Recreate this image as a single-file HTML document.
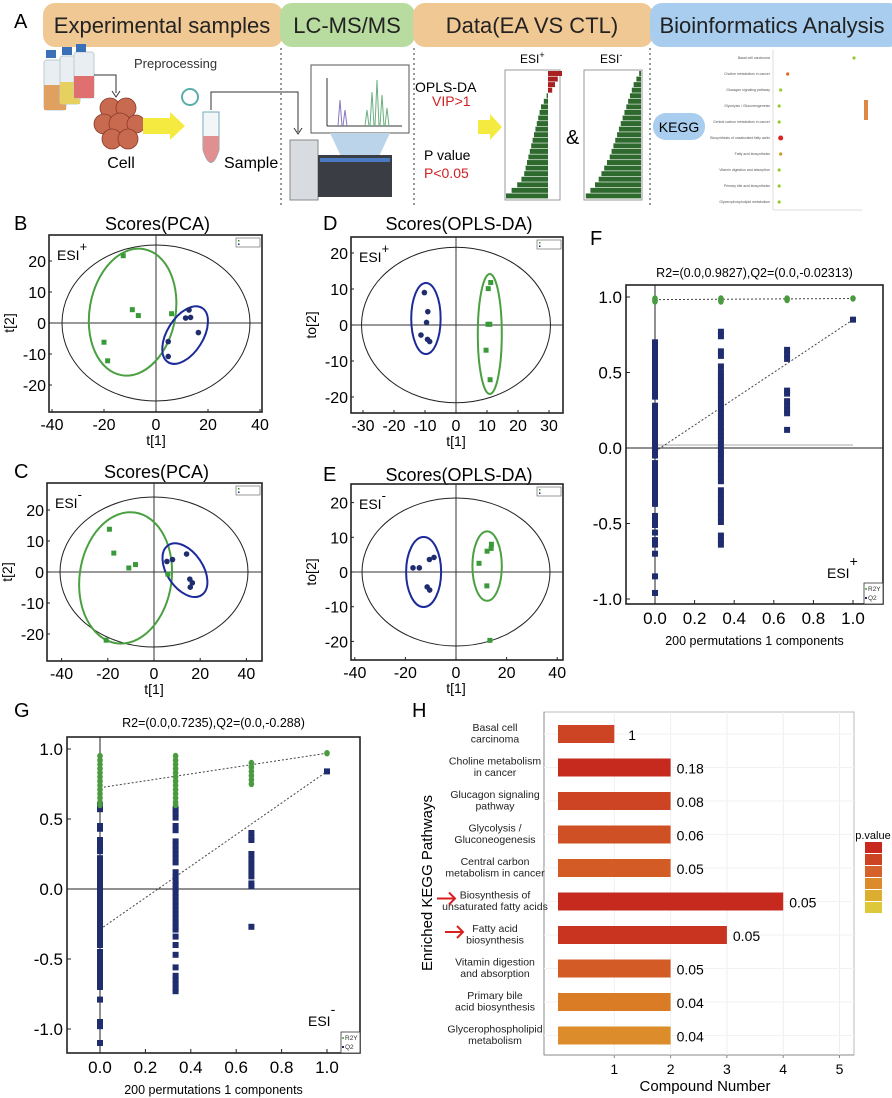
<!DOCTYPE html>
<html><head><meta charset="utf-8"><style>
html,body{margin:0;padding:0;background:#fff}
svg{display:block;font-family:"Liberation Sans",Arial,sans-serif}
</style></head><body>
<svg id="fig" width="892" height="1098" viewBox="0 0 892 1098" xmlns="http://www.w3.org/2000/svg">
<!-- Panel A -->
<g>
<text x="14" y="28" font-size="20">A</text>
<rect x="43" y="3" width="240" height="44" rx="12" fill="#f0c894"/>
<text x="162" y="33" font-size="22" text-anchor="middle" fill="#222">Experimental samples</text>
<rect x="280" y="3" width="135" height="44" rx="12" fill="#b8dca0"/>
<text x="347" y="33" font-size="22" text-anchor="middle" fill="#222">LC-MS/MS</text>
<rect x="413" y="3" width="240" height="44" rx="12" fill="#f0c894"/>
<text x="532" y="33" font-size="22" text-anchor="middle" fill="#222">Data(EA VS CTL)</text>
<rect x="650" y="3" width="250" height="44" rx="12" fill="#a8cdee"/>
<text x="772" y="33" font-size="22" text-anchor="middle" fill="#222">Bioinformatics Analysis</text>
<g stroke="#333" stroke-dasharray="2,3" stroke-width="1">
<line x1="281" y1="48" x2="281" y2="205"/><line x1="414" y1="48" x2="414" y2="205"/><line x1="650" y1="48" x2="650" y2="205"/></g>
<g>
<rect x="44" y="60" width="22" height="50" rx="3" fill="#e8eef2" stroke="#bcc"/><rect x="44" y="85" width="22" height="25" fill="#e0a060"/>
<rect x="60" y="56" width="20" height="48" rx="3" fill="#e8eef2" stroke="#bcc"/><rect x="60" y="82" width="20" height="22" fill="#e6d060"/>
<rect x="74" y="52" width="20" height="46" rx="3" fill="#e8eef2" stroke="#bcc"/><rect x="74" y="76" width="20" height="22" fill="#e07070"/>
<rect x="46" y="50" width="10" height="8" fill="#3a70b8"/><rect x="62" y="47" width="10" height="8" fill="#3a70b8"/><rect x="76" y="44" width="10" height="8" fill="#3a70b8"/>
</g>
<path d="M94 75 H116 V93" fill="none" stroke="#333"/><path d="M112 91 L116 97 L120 91" fill="none" stroke="#333"/>
<text x="134" y="68" font-size="13" fill="#333">Preprocessing</text>
<g fill="#c86a50" stroke="#8a3a28" stroke-width="0.8">
<circle cx="110" cy="108" r="10"/><circle cx="126" cy="108" r="10"/><circle cx="104" cy="124" r="10"/><circle cx="120" cy="124" r="11"/><circle cx="136" cy="124" r="9"/><circle cx="112" cy="139" r="10"/><circle cx="128" cy="139" r="10"/></g>
<text x="121" y="168" font-size="16" text-anchor="middle">Cell</text>
<polygon points="143,118 170,118 170,112 185,126 170,140 170,134 143,134" fill="#f4ea40"/>
<g>
<path d="M203 112 L203 150 Q211 175 219 150 L219 112 Z" fill="#f2f6f6" stroke="#7ab"/><path d="M203 136 L203 150 Q211 175 219 150 L219 136 Z" fill="#e09090"/>
<circle cx="190" cy="97" r="8" fill="none" stroke="#5ab0a8" stroke-width="2"/></g>
<path d="M211 110 V92 H298 V132" fill="none" stroke="#333"/><path d="M294 128 L298 134 L302 128" fill="none" stroke="#333"/>
<text x="224" y="168" font-size="16">Sample</text>
<g>
<rect x="311" y="65" width="98" height="68" fill="#fff" stroke="#555"/>
<polygon points="330,133 390,133 375,165 345,165" fill="#bcd4ea"/>
<path d="M327 126 H402" stroke="#333"/><path d="M327 126 V78" stroke="#333"/>
<path d="M338 126 L340 100 L342 126 M343 126 L345 110 L347 126" stroke="#8878c0" fill="none"/>
<path d="M365 126 L367 110 L369 126 M370 126 L372 92 L374 126 M375 126 L377 80 L379 126 M380 126 L382 95 L384 126 M385 126 L387 108 L389 126" stroke="#6ab080" fill="none"/></g>
<g>
<rect x="290" y="140" width="28" height="60" fill="#d8dce0" stroke="#888"/><rect x="318" y="155" width="74" height="42" fill="#3a3e44"/><rect x="320" y="158" width="70" height="4" fill="#4a7ac0"/></g>
<text x="415" y="92" font-size="14">OPLS-DA</text>
<text x="432" y="106" font-size="14" fill="#d02020">VIP&gt;1</text>
<text x="424" y="160" font-size="14">P value</text>
<text x="424" y="178" font-size="14" fill="#d02020">P&lt;0.05</text>
<polygon points="478,120 490,120 490,114 502,127 490,140 490,134 478,134" fill="#f4ea40"/>
<text x="520" y="63" font-size="12">ESI<tspan dy="-5" font-size="9">+</tspan></text>
<text x="600" y="63" font-size="12">ESI<tspan dy="-5" font-size="9">-</tspan></text>
<rect x="505" y="70" width="55" height="130" fill="#fff" stroke="#999"/>
<rect x="584" y="70" width="58" height="130" fill="#fff" stroke="#999"/>
<g id="vipbars"></g>
<text x="566" y="144" font-size="20">&amp;</text>
<rect x="653" y="113" width="52" height="27" rx="13" fill="#a8cdee"/>
<text x="679" y="132" font-size="14" text-anchor="middle">KEGG</text>
<g id="dotplot"><line x1="773" y1="50" x2="773" y2="210" stroke="#ddd"/><line x1="773" y1="210" x2="862" y2="210" stroke="#ddd"/></g>
</g>
<g id="plots"></g>
</svg>
<script>
const NS='http://www.w3.org/2000/svg';
const root=document.getElementById('plots');
function mk(tag,attrs,parent,txt){const e=document.createElementNS(NS,tag);for(const k in attrs)e.setAttribute(k,attrs[k]);if(txt!==undefined)e.textContent=txt;(parent||root).appendChild(e);return e;}

// ---------- Panel A mini charts ----------
const vipPos=[1.0,0.7,0.5,0.3,-0.1,-0.3,-0.5,-0.6,-0.7,-0.8,-0.9,-1.0,-1.1,-1.2,-1.3,-1.4,-1.5,-1.6,-1.7,-1.9,-2.2,-2.6,-3.0];
const vipNeg=[-0.2,-0.5,-0.8,-1.0,-1.2,-1.4,-1.6,-1.8,-2.0,-2.2,-2.4,-2.6,-2.8,-3.0,-3.2,-3.4,-3.7,-4.0,-4.3,-4.6,-5.0,-5.5,-6.0];
(function(){const g=document.getElementById('vipbars');
 const bh=128/vipPos.length;
 vipPos.forEach((v,i)=>{const x0=548,k=14;const b=mk('rect',{x:Math.min(x0,x0+v*k),y:71+i*bh,width:Math.abs(v*k),height:bh-0.6,fill:v>0?'#a82020':'#2e6a2e'},g);
 
 });
 vipNeg.forEach((v,i)=>{const x0=641,k=9.2;const b=mk('rect',{x:x0+v*k,y:71+i*bh,width:-v*k,height:bh-0.6,fill:'#2e6a2e'},g);
 
 });
})();
const dotNames=['Basal cell carcinoma','Choline metabolism in cancer','Glucagon signaling pathway','Glycolysis / Gluconeogenesis','Central carbon metabolism in cancer','Biosynthesis of unsaturated fatty acids','Fatty acid biosynthesis','Vitamin digestion and absorption','Primary bile acid biosynthesis','Glycerophospholipid metabolism'];
const dotRich=[1.0,0.15,0.06,0.04,0.04,0.06,0.06,0.04,0.04,0.04];
const dotCol=['#9c3','#d62','#9c3','#9c3','#9c3','#d22','#c92','#9c3','#9c3','#9c3'];
(function(){const g=document.getElementById('dotplot');
 dotRich.forEach((v,i)=>{const d=mk('circle',{cx:776+v*78,cy:58+i*16,r:i==5?2.5:1.6,fill:dotCol[i]},g);
 
 
 const t=mk('text',{x:770,y:59+i*16,'font-size':3.5,'text-anchor':'end',fill:'#555'},g,dotNames[i]);
 
 });
 const lg=mk('rect',{x:864,y:100,width:4,height:20,fill:'#d84'},g);
 
 
})();

// ---------- Score plots (B-E) ----------
const bGreenX=[-12.6,-9.1,-6.8,6.0,-20.0,-18.6], bGreenY=[21.7,4.3,2.4,3.0,-6.2,-12.2];
const bBlueX=[12.7,11.4,13.3,16.3,4.7,4.7], bBlueY=[4.2,1.6,1.8,-3.1,-6.0,-10.8];
const cGreenX=[-19.3,-17.4,-10.9,-8.0,6.0,-20.7], cGreenY=[13.8,6.1,1.3,2.4,-0.7,-22.0];
const cBlueX=[5.6,8.0,14.1,15.5,16.6,15.7], cBlueY=[3.4,4.0,5.8,-2.3,-3.5,-4.9];
const dGreenX=[11.2,10.4,10.3,10.9,9.7,11.0], dGreenY=[11.8,10.1,0.2,0.2,-7.0,-15.2];
const dBlueX=[-10.2,-9.1,-9.5,-11.3,-9.2,-8.5], dBlueY=[9.0,3.7,0.7,-2.8,-4.0,-4.6];
const eGreenX=[9.1,12.3,14.0,13.9,12.2,13.4], eGreenY=[2.5,6.0,8.0,6.8,-4.0,-19.7];
const eBlueX=[-17.0,-14.5,-10.5,-8.7,-11.4,-10.4], eBlueY=[1.2,1.2,3.6,4.2,-4.3,-5.2];
const tickPCA=[-40,-20,0,20,40], tickOPLS=[-30,-20,-10,0,10,20,30], tickY=[20,10,0,-10,-20];

const panels=[
 {id:'b',L:'B',box:[49,235,262,412],x0:156,xk:2.6,y0:323,yk:3.1,xt:tickPCA,title:'Scores(PCA)',ty:224,esi:'+',yl:'t[2]',
  gx:bGreenX,gy:bGreenY,bx:bBlueX,by:bBlueY,outer:[94,78],ge:[-9.0,3.5,43,64,10],be:[11.2,-3.9,32,18,-58]},
 {id:'c',L:'C',box:[47,483,262,661],x0:154,xk:2.31,y0:572,yk:3.1,xt:tickPCA,title:'Scores(PCA)',ty:472,esi:'-',yl:'t[2]',
  gx:cGreenX,gy:cGreenY,bx:cBlueX,by:cBlueY,outer:[94,75],ge:[-12.3,-1.9,46,66,8],be:[13.4,0.6,30,18,56]},
 {id:'d',L:'D',box:[351,237,563,413],x0:456,xk:3.1,y0:325,yk:3.6,xt:tickOPLS,title:'Scores(OPLS-DA)',ty:224,esi:'+',yl:'to[2]',
  gx:dGreenX,gy:dGreenY,bx:dBlueX,by:dBlueY,outer:[94.5,77.7],ge:[10.9,-2.5,12,60,0],be:[-9.7,1.8,14.7,35.5,0]},
 {id:'e',L:'E',box:[351,484,563,660],x0:456,xk:2.53,y0:572,yk:3.47,xt:tickPCA,title:'Scores(OPLS-DA)',ty:475,esi:'-',yl:'to[2]',
  gx:eGreenX,gy:eGreenY,bx:eBlueX,by:eBlueY,outer:[94,74],ge:[12.3,1.7,14.7,34.7,0],be:[-12.8,0,17.5,35,0]}
];
panels.forEach(p=>{
 const g=mk('g',{});
 
 
 const X=v=>p.x0+v*p.xk, Y=v=>p.y0-v*p.yk;
 const [l,t,r,b]=p.box;
 const lab=mk('text',{x:14,y:p.ty+6,'font-size':20},g,p.L);
 if(p.id=='d'||p.id=='e'){lab.setAttribute('x',323);}
 
 
 const ti=mk('text',{x:(l+r)/2+2,y:p.ty+6,'font-size':18,'text-anchor':'middle'},g,p.title);
 
 
 const fr=mk('rect',{x:l,y:t,width:r-l,height:b-t,fill:'none',stroke:'#222','stroke-width':1.6},g);
 
 
 mk('line',{x1:l,x2:r,y1:Y(0),y2:Y(0),stroke:'#333'},g);
 mk('line',{x1:X(0),x2:X(0),y1:t,y2:b,stroke:'#333'},g);
 const oe=mk('ellipse',{cx:X(0),cy:Y(0),rx:p.outer[0],ry:p.outer[1],fill:'none',stroke:'#222','stroke-width':1},g);
 
 
 p.xt.forEach(v=>{mk('line',{x1:X(v),x2:X(v),y1:b,y2:b-3,stroke:'#222'},g);
  const tx=mk('text',{x:X(v),y:b+18,'font-size':16,'text-anchor':'middle'},g,String(v));
  
  });
 tickY.forEach(v=>{mk('line',{x1:l,x2:l+3,y1:Y(v),y2:Y(v),stroke:'#222'},g);
  const ty=mk('text',{x:l-3,y:Y(v)+6,'font-size':16,'text-anchor':'end'},g,String(v));
  
  });
 const xl=mk('text',{x:X(0),y:b+33,'font-size':14,'text-anchor':'middle'},g,'t[1]');
 
 
 const yl=mk('text',{x:0,y:0,'font-size':14,'text-anchor':'middle',transform:`translate(${l-35},${Y(0)}) rotate(-90)`},g,p.yl);
 
 
 const es=mk('text',{x:l+8,y:t+25,'font-size':14},g);
 es.innerHTML='ESI<tspan dy="-9" font-size="13">'+p.esi+'</tspan>';
 
 
 const lg=mk('rect',{x:r-26,y:t+3,width:24,height:9,fill:'#fff',stroke:'#555','stroke-width':0.6},g);
 
 
 mk('rect',{x:r-24,y:t+5,width:1.5,height:1.5,fill:'#3a9a3a'},g);mk('rect',{x:r-24,y:t+8.5,width:1.5,height:1.5,fill:'#1f2d6e'},g);
 [['ge','#4aa040'],['be','#1c2a9a']].forEach(([k,c])=>{const e=p[k];
  const el=mk('ellipse',{cx:0,cy:0,rx:e[2],ry:e[3],fill:'none',stroke:c,'stroke-width':2,transform:`translate(${X(e[0])},${Y(e[1])}) rotate(${e[4]})`},g);
  
  });
 p.gx.forEach((v,i)=>{const s=mk('rect',{x:X(v)-2.5,y:Y(p.gy[i])-2.5,width:5,height:5,fill:'#3a9a3a'},g);
  
  });
 p.bx.forEach((v,i)=>{const c=mk('circle',{cx:X(v),cy:Y(p.by[i]),r:2.8,fill:'#1f2d6e'},g);
  
  });
});

// ---------- Permutation plots (F, G) ----------
const fR2y=[0.99,0.98,0.97,0.99,0.98,0.97,0.99,0.98,0.99];
const fQ2x0=[0.70,0.67,0.64,0.61,0.58,0.55,0.52,0.49,0.46,0.43,0.40,0.37,0.34,0.28,0.25,0.22,0.19,0.16,0.13,0.10,0.07,0.04,0.01,-0.02,-0.05,-0.10,-0.13,-0.16,-0.19,-0.22,-0.25,-0.28,-0.31,-0.34,-0.37,-0.45,-0.48,-0.51,-0.56,-0.61,-0.64,-0.70,-0.85,-0.96];
const fQ2x1=[0.77,0.74,0.64,0.61,0.54,0.50,0.47,0.44,0.41,0.38,0.35,0.32,0.29,0.26,0.23,0.20,0.17,0.14,0.11,0.08,0.05,0.02,-0.01,-0.04,-0.07,-0.10,-0.13,-0.16,-0.19,-0.22,-0.28,-0.31,-0.34,-0.37,-0.40,-0.43,-0.46,-0.49,-0.58,-0.61,-0.64];
const fQ2x2=[0.65,0.62,0.59,0.38,0.36,0.31,0.28,0.25,0.23,0.12];
const fQ2x3=[0.85];
const fLines=[[0.9827,0.99],[-0.02313,0.85]];
const gR2x0=[0.95,0.92,0.89,0.86,0.83,0.80,0.77,0.74,0.71,0.68,0.65,0.62,0.60];
const gR2x1=[0.95,0.92,0.89,0.86,0.83,0.80,0.77,0.74,0.71,0.68,0.65,0.62,0.60];
const gR2x2=[0.90,0.87,0.84,0.81,0.78,0.75];
const gR2x3=[0.97];
const gQ2x0=[0.60,0.57,0.45,0.43,0.35,0.32,0.29,0.27,0.22,0.19,0.16,0.13,0.10,0.07,0.04,0.01,-0.02,-0.05,-0.08,-0.11,-0.14,-0.17,-0.20,-0.23,-0.26,-0.29,-0.32,-0.35,-0.38,-0.40,-0.45,-0.48,-0.51,-0.54,-0.57,-0.60,-0.63,-0.66,-0.70,-0.79,-0.95,-0.98,-1.10];
const gQ2x1=[0.57,0.54,0.51,0.45,0.42,0.34,0.31,0.28,0.25,0.22,0.19,0.12,0.09,0.06,0.03,0.00,-0.03,-0.06,-0.09,-0.12,-0.15,-0.18,-0.21,-0.24,-0.27,-0.29,-0.34,-0.40,-0.47,-0.56,-0.62,-0.65,-0.68,-0.71,-0.73];
const gQ2x2=[0.40,0.37,0.35,0.25,0.21,0.17,0.13,0.09,0.04,0.02,-0.27];
const gQ2x3=[0.84];
const gLines=[[0.7235,0.97],[-0.288,0.84]];
const permX=[0,0.333,0.667,1];
const permTicks=[0,0.2,0.4,0.6,0.8,1.0], permYTicks=[1.0,0.5,0.0,-0.5,-1.0];
const perm=[
 {id:'f',L:'F',lx:590,ly:245,box:[626,285,883,604],x0:655,xk:198,y0:448,yk:151,title:'R2=(0.0,0.9827),Q2=(0.0,-0.02313)',ty:277,
  r2v:[fR2y.slice(0,3),fR2y.slice(3,6),fR2y.slice(6,8),fR2y.slice(8)],
  q2:[fQ2x0,fQ2x1,fQ2x2,fQ2x3],lines:fLines,esi:'+',ex:827,ey:578,grey:true},
 {id:'g',L:'G',lx:14,ly:717,box:[67,737,360,1053],x0:100,xk:227,y0:889,yk:140,title:'R2=(0.0,0.7235),Q2=(0.0,-0.288)',ty:727,
  r2v:[gR2x0,gR2x1,gR2x2,gR2x3],q2:[gQ2x0,gQ2x1,gQ2x2,gQ2x3],lines:gLines,esi:'-',ex:308,ey:1026,grey:false}
];
perm.forEach(p=>{
 const g=mk('g',{});
 
 
 const X=v=>p.x0+v*p.xk, Y=v=>p.y0-v*p.yk;
 const [l,t,r,b]=p.box;
 const lab=mk('text',{x:p.lx,y:p.ly,'font-size':20},g,p.L);
 
 
 const ti=mk('text',{x:(l+r)/2,y:p.ty,'font-size':12.5,'text-anchor':'middle'},g,p.title);
 
 
 const fr=mk('rect',{x:l,y:t,width:r-l,height:b-t,fill:'none',stroke:'#222','stroke-width':1.6},g);
 
 
 mk('line',{x1:l,x2:r,y1:Y(0),y2:Y(0),stroke:'#222'},g);
 mk('line',{x1:X(0),x2:X(0),y1:t,y2:b,stroke:'#222'},g);
 if(p.grey)mk('line',{x1:X(0),x2:X(1),y1:Y(0.02),y2:Y(0.02),stroke:'#aaa'},g);
 permTicks.forEach(v=>{mk('line',{x1:X(v),x2:X(v),y1:b,y2:b-4,stroke:'#222'},g);
  const tx=mk('text',{x:X(v),y:b+20,'font-size':17,'text-anchor':'middle'},g,v.toFixed(1));
  
  });
 permYTicks.forEach(v=>{mk('line',{x1:l,x2:l+4,y1:Y(v),y2:Y(v),stroke:'#222'},g);
  const ty=mk('text',{x:l-4,y:Y(v)+6,'font-size':17,'text-anchor':'end'},g,v.toFixed(1));
  
  });
 const xl=mk('text',{x:(l+r)/2,y:b+41,'font-size':12.5,'text-anchor':'middle'},g,'200 permutations 1 components');
 
 
 p.lines.forEach((ln,i)=>{const d=mk('line',{x1:X(0),y1:Y(ln[0]),x2:X(1),y2:Y(ln[1]),stroke:'#444','stroke-dasharray':'2,2'},g);
  
  });
 p.q2.forEach((col,ci)=>col.forEach(v=>{const s=mk('rect',{x:X(permX[ci])-3,y:Y(v)-3,width:6,height:6,fill:'#1f2d6e'},g);
  
  }));
 p.r2v.forEach((col,ci)=>col.forEach(v=>{const c=mk('ellipse',{cx:X(permX[ci]),cy:Y(v),rx:2.8,ry:3.2,fill:'#4a9a40'},g);
  
  }));
 const es=mk('text',{x:p.ex,y:p.ey,'font-size':14},g);
 es.innerHTML='ESI<tspan dy="-12" font-size="14">'+p.esi+'</tspan>';
 
 
 const lg=mk('rect',{x:r-19,y:b-21,width:19,height:21,fill:'#fff',stroke:'#333','stroke-width':0.8},g);
 
 
 const l1=mk('text',{x:r-15,y:b-13,'font-size':6.5,fill:'#333'},g,'R2Y');
 
 
 const l2=mk('text',{x:r-15,y:b-4,'font-size':6.5,fill:'#333'},g,'Q2');
 
 
 mk('circle',{cx:r-17,cy:b-15,r:1,fill:'#4a9a40'},g);mk('rect',{x:r-18,y:b-7,width:2,height:2,fill:'#1f2d6e'},g);
});

// ---------- Panel H bar chart ----------
const hCats=[['Basal cell','carcinoma'],['Choline metabolism','in cancer'],['Glucagon signaling','pathway'],['Glycolysis /','Gluconeogenesis'],['Central carbon','metabolism in cancer'],['Biosynthesis of','unsaturated fatty acids'],['Fatty acid','biosynthesis'],['Vitamin digestion','and absorption'],['Primary bile','acid biosynthesis'],['Glycerophospholipid','metabolism']];
const hCounts=[1,2,2,2,2,4,3,2,2,2];
const hPvals=['1','0.18','0.08','0.06','0.05','0.05','0.05','0.05','0.04','0.04'];
const hColors=['#cc4424','#c62a1f','#cc4424','#cf5024','#d35c26','#c62a1f','#c83420','#d35c26','#da7c26','#dc8c2a'];
const hTicks=[1,2,3,4,5];
const legendColors=['#c8281e','#cc4422','#d4622a','#dc8a2a','#dcae30','#dcc838'];
(function(){
 const g=mk('g',{});
 
 
 const L=544,T=712,R=854,B=1055;const X=v=>558+v*56.3;const Yc=i=>734+i*33.5;
 const lab=mk('text',{x:412,y:717,'font-size':20},g,'H');
 
 
 const fr=mk('rect',{x:L,y:T,width:R-L,height:B-T,fill:'#fff',stroke:'#bbb','stroke-width':1},g);
 
 
 mk('line',{x1:L,x2:L,y1:T,y2:B,stroke:'#888'},g);mk('line',{x1:L,x2:R,y1:B,y2:B,stroke:'#888'},g);
 hTicks.forEach(v=>{mk('line',{x1:X(v),x2:X(v),y1:T,y2:B,stroke:'#eee'},g);mk('line',{x1:X(v),x2:X(v),y1:B,y2:B+3,stroke:'#888'},g);
  const tx=mk('text',{x:X(v),y:B+19,'font-size':14,'text-anchor':'middle'},g,String(v));
  
  });
 hCats.forEach((c,i)=>{mk('line',{x1:L,x2:R,y1:Yc(i),y2:Yc(i),stroke:'#f2f2f2'},g);
  const t=mk('text',{x:495,y:Yc(i)-3,'font-size':10.5,'text-anchor':'middle',fill:'#222'},g);
  t.innerHTML=`<tspan x="495">${c[0]}</tspan><tspan x="495" dy="11.5">${c[1]}</tspan>`;
  
  
  const bar=mk('rect',{x:X(0),y:Yc(i)-9,width:X(hCounts[i])-X(0),height:18,fill:hColors[i]},g);
  
  
  const pv=mk('text',{x:X(hCounts[i])+(hCounts[i]==1?14:6),y:Yc(i)+6,'font-size':14},g,hPvals[i]);
  
  });
 const xl=mk('text',{x:705,y:1091,'font-size':15,'text-anchor':'middle'},g,'Compound Number');
 
 
 const yl=mk('text',{x:0,y:0,'font-size':15,'text-anchor':'middle',transform:'translate(432,883) rotate(-90)'},g,'Enriched KEGG Pathways');
 
 
 [5,6].forEach(i=>{const a=mk('path',{d:`M${i==5?437:445} ${Yc(i)-3} h18 m-6 -6 l6 6 l-6 6`,stroke:'#d82020','stroke-width':2,fill:'none'},g);
  
  });
 const lt=mk('text',{x:873,y:839,'font-size':11,'text-anchor':'middle'},g,'p.value');
 
 
 legendColors.forEach((c,i)=>{const s=mk('rect',{x:865,y:842+i*12,width:17,height:11,fill:c},g);
  
  });
})();
</script>
</body></html>
